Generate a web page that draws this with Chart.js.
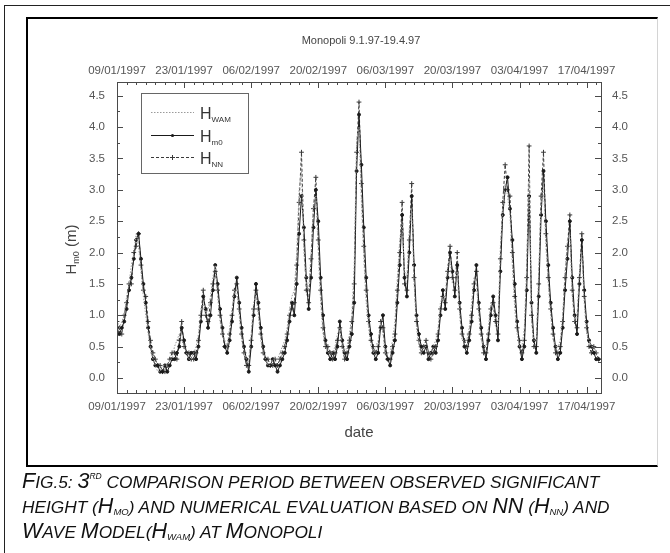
<!DOCTYPE html>
<html>
<head>
<meta charset="utf-8">
<script src="https://cdn.jsdelivr.net/npm/chart.js@4.4.0/dist/chart.umd.min.js"></script>
<style>
  body { margin: 0; background: #fff; width: 670px; height: 553px; overflow: hidden; position: relative; font-family: "Liberation Sans", Arial, sans-serif; }
  #outer { position: absolute; left: 4px; top: 5px; width: 700px; height: 600px; border-left: 1px solid #222; border-top: 1px solid #222; }
  #frame { position: absolute; left: 26px; top: 17px; width: 629px; height: 446px; border: 2px solid #000; border-right: 1px solid #d4d4d4; }
  #chart { position: absolute; left: 0; top: 0; }
  #caption { position: absolute; left: 22px; top: 470px; font-style: italic; font-size: 17.3px; line-height: 25px; color: #111; text-transform: uppercase; white-space: nowrap; }
  #caption .b { font-size: 21.5px; line-height: 0; }
  #caption sub { font-size: 9.5px; vertical-align: -2px; line-height: 0; }
  #caption sup { font-size: 8.5px; vertical-align: 9px; line-height: 0; }
</style>
</head>
<body>
<div id="outer"></div>
<div id="frame"></div>
<canvas id="chart" width="670" height="553"></canvas>
<div id="caption">
  <span class="b">F</span>ig.5: <span class="b">3</span><sup>rd</sup> comparison period between observed significant<br>
  height (<span class="b">H</span><sub>mo</sub>) and numerical evaluation based on <span class="b">NN</span> (<span class="b">H</span><sub>NN</sub>) and<br>
  <span class="b">W</span>ave <span class="b">M</span>odel(<span class="b">H</span><sub>WAM</sub>) at <span class="b">M</span>onopoli
</div>
<script>
// time axis: days after 09/01/1997, two readings per day
const stepDays = 0.5;
const dateLabels = ["09/01/1997", "23/01/1997", "06/02/1997", "20/02/1997", "06/03/1997", "20/03/1997", "03/04/1997", "17/04/1997"];
const labelDays = [0, 14, 28, 42, 56, 70, 84, 98];
const yTicks = [0, 0.5, 1, 1.5, 2, 2.5, 3, 3.5, 4, 4.5];

// observed H_m0 (m)
const hm0 = [
  0.8, 0.7, 0.8, 0.9, 1.1, 1.4, 1.6, 1.9, 2.2, 2.3, 1.9, 1.5, 1.2, 0.8, 0.5, 0.3, 0.2, 0.2, 0.1, 0.1,
  0.2, 0.1, 0.2, 0.3, 0.3, 0.4, 0.5, 0.8, 0.6, 0.4, 0.3, 0.4, 0.4, 0.3, 0.5, 0.9, 1.3, 1.1, 0.8, 1.0,
  1.4, 1.8, 1.5, 1.1, 0.8, 0.5, 0.4, 0.6, 0.9, 1.3, 1.6, 1.2, 0.8, 0.5, 0.3, 0.1, 0.5, 1.0, 1.5, 1.2,
  0.8, 0.5, 0.3, 0.2, 0.2, 0.3, 0.2, 0.1, 0.2, 0.3, 0.4, 0.6, 0.9, 1.2, 1.0, 1.5, 2.3, 2.9, 2.4, 1.6,
  1.1, 1.6, 2.4, 3.0, 2.5, 1.6, 1.0, 0.6, 0.4, 0.3, 0.4, 0.3, 0.5, 0.9, 0.6, 0.4, 0.3, 0.5, 0.7, 1.2,
  3.3, 4.2, 3.4, 2.4, 1.6, 1.0, 0.7, 0.4, 0.3, 0.4, 0.8, 1.0, 0.5, 0.3, 0.2, 0.4, 0.6, 1.2, 1.8, 2.6,
  1.6, 1.3, 2.0, 2.9, 1.8, 1.0, 0.7, 0.5, 0.4, 0.5, 0.3, 0.4, 0.5, 0.4, 0.6, 1.0, 1.4, 1.1, 1.6, 2.0,
  1.7, 1.3, 1.8, 1.2, 0.8, 0.5, 0.4, 0.6, 0.9, 1.4, 1.8, 1.2, 0.8, 0.5, 0.3, 0.6, 1.0, 1.3, 1.0, 0.6,
  1.7, 2.6, 3.0, 3.2, 2.7, 2.2, 1.5, 0.9, 0.5, 0.3, 0.5, 1.4, 2.9, 1.2, 0.6, 0.4, 1.3, 2.6, 3.3, 2.5,
  1.8, 1.2, 0.8, 0.5, 0.3, 0.4, 0.8, 1.4, 1.9, 2.5, 1.6, 1.0, 0.7, 1.5, 2.2, 1.4, 0.9, 0.6, 0.5, 0.4,
  0.3, 0.3
];

// neural network H_NN (m)
const hnn = [
  0.9, 0.8, 0.7, 1.0, 1.2, 1.5, 1.5, 2.0, 2.1, 2.3, 1.8, 1.4, 1.3, 0.9, 0.6, 0.4, 0.3, 0.2, 0.2, 0.1,
  0.1, 0.2, 0.3, 0.4, 0.4, 0.3, 0.6, 0.9, 0.5, 0.4, 0.4, 0.3, 0.3, 0.4, 0.6, 1.0, 1.4, 1.0, 0.9, 1.2,
  1.5, 1.7, 1.4, 1.0, 0.7, 0.5, 0.5, 0.7, 1.0, 1.4, 1.5, 1.1, 0.7, 0.4, 0.2, 0.2, 0.6, 1.1, 1.4, 1.1,
  0.7, 0.4, 0.3, 0.3, 0.2, 0.2, 0.3, 0.2, 0.3, 0.4, 0.5, 0.7, 1.0, 1.1, 1.2, 1.8, 2.8, 3.6, 2.2, 1.4,
  1.2, 1.9, 2.7, 3.2, 2.2, 1.4, 0.8, 0.5, 0.5, 0.4, 0.3, 0.4, 0.6, 0.8, 0.5, 0.3, 0.4, 0.6, 0.9, 1.5,
  3.6, 4.4, 3.1, 2.1, 1.4, 0.9, 0.6, 0.5, 0.4, 0.5, 0.9, 0.8, 0.4, 0.3, 0.3, 0.5, 0.7, 1.4, 2.0, 2.8,
  1.5, 1.4, 2.2, 3.1, 1.6, 0.9, 0.6, 0.4, 0.5, 0.6, 0.4, 0.3, 0.4, 0.5, 0.7, 1.1, 1.3, 1.2, 1.7, 2.1,
  1.6, 1.4, 2.0, 1.1, 0.7, 0.6, 0.5, 0.7, 1.0, 1.5, 1.7, 1.1, 0.7, 0.4, 0.4, 0.7, 1.1, 1.2, 0.9, 0.7,
  1.9, 2.8, 3.4, 3.0, 2.9, 2.0, 1.3, 0.8, 0.6, 0.4, 0.6, 1.6, 3.7, 1.0, 0.5, 0.5, 1.5, 2.9, 3.6, 2.3,
  1.6, 1.1, 0.7, 0.4, 0.4, 0.5, 0.9, 1.6, 2.1, 2.6, 1.4, 0.9, 0.8, 1.6, 2.3, 1.3, 0.8, 0.5, 0.4, 0.5,
  0.4, 0.3
];

// wave model H_WAM (m)
const hwam = [
  0.7, 0.8, 0.9, 1.0, 1.3, 1.5, 1.8, 2.0, 2.3, 2.1, 1.7, 1.3, 1.0, 0.7, 0.5, 0.3, 0.2, 0.1, 0.1, 0.2,
  0.2, 0.2, 0.3, 0.3, 0.5, 0.6, 0.7, 0.6, 0.5, 0.4, 0.3, 0.3, 0.4, 0.5, 0.7, 1.1, 1.2, 1.0, 1.1, 1.3,
  1.6, 1.8, 1.3, 0.9, 0.7, 0.6, 0.5, 0.8, 1.1, 1.4, 1.4, 1.0, 0.6, 0.4, 0.3, 0.3, 0.7, 1.2, 1.3, 1.0,
  0.6, 0.4, 0.3, 0.2, 0.2, 0.3, 0.3, 0.3, 0.4, 0.5, 0.6, 0.8, 1.1, 1.3, 1.4, 2.0, 3.0, 3.3, 2.0, 1.5,
  1.4, 2.0, 2.8, 2.9, 2.0, 1.2, 0.7, 0.5, 0.4, 0.4, 0.4, 0.5, 0.7, 0.8, 0.5, 0.4, 0.5, 0.7, 1.0, 1.8,
  3.8, 4.0, 2.8, 1.9, 1.2, 0.8, 0.5, 0.4, 0.5, 0.6, 0.9, 0.7, 0.4, 0.4, 0.4, 0.6, 0.9, 1.6, 2.2, 2.5,
  1.7, 1.6, 2.4, 2.7, 1.5, 0.8, 0.5, 0.4, 0.5, 0.5, 0.4, 0.4, 0.5, 0.6, 0.8, 1.2, 1.3, 1.3, 1.8, 1.9,
  1.5, 1.5, 1.7, 1.0, 0.6, 0.6, 0.6, 0.8, 1.2, 1.6, 1.5, 1.0, 0.6, 0.5, 0.5, 0.8, 1.2, 1.1, 0.8, 0.8,
  2.1, 2.7, 3.1, 2.9, 2.6, 1.8, 1.1, 0.7, 0.5, 0.5, 0.8, 1.8, 3.2, 0.9, 0.6, 0.6, 1.7, 2.8, 3.1, 2.1,
  1.5, 1.0, 0.6, 0.5, 0.5, 0.6, 1.0, 1.7, 2.2, 2.3, 1.3, 0.9, 1.0, 1.7, 2.0, 1.2, 0.7, 0.6, 0.5, 0.5,
  0.4, 0.4
];

const toPoints = (arr) => arr.map((v, i) => ({ x: i * stepDays, y: v }));

const axisColor = "#4a4a4a";
const labelColor = "#555";
const tickFont = { family: "'Liberation Sans', Arial, sans-serif", size: 11.5 };

// ticks inward on all four sides, major + minor
const frame = {
  id: "frame",
  afterDatasetsDraw(chart) {
    const { ctx, chartArea: a, scales } = chart;
    const x = scales.x, y = scales.y;
    ctx.save();
    ctx.strokeStyle = axisColor;
    ctx.lineWidth = 1;
    ctx.strokeRect(Math.round(a.left) + 0.5, Math.round(a.top) + 0.5, Math.round(a.right - a.left), Math.round(a.bottom - a.top));
    ctx.beginPath();
    for (let d = 0; d <= x.max; d += 2) {
      const px = Math.round(x.getPixelForValue(d)) + 0.5;
      const len = labelDays.includes(d) ? 6 : 3;
      ctx.moveTo(px, a.bottom); ctx.lineTo(px, a.bottom - len);
      ctx.moveTo(px, a.top); ctx.lineTo(px, a.top + len);
    }
    for (let v = 0; v <= y.max; v += 0.25) {
      const py = Math.round(y.getPixelForValue(v)) + 0.5;
      const len = yTicks.includes(v) ? 6 : 3;
      ctx.moveTo(a.left, py); ctx.lineTo(a.left + len, py);
      ctx.moveTo(a.right, py); ctx.lineTo(a.right - len, py);
    }
    ctx.stroke();
    ctx.restore();
  },
  afterDraw(chart) {
    const { ctx, chartArea: a } = chart;
    const cx = (a.left + a.right) / 2;
    ctx.save();
    ctx.fillStyle = "#444";
    ctx.textAlign = "center";
    ctx.textBaseline = "middle";
    ctx.font = "11px 'Liberation Sans', Arial, sans-serif";
    ctx.fillText("Monopoli 9.1.97-19.4.97", cx + 2, 41);
    ctx.font = "15px 'Liberation Sans', Arial, sans-serif";
    ctx.fillText("date", cx, 433);

    // y title with subscript
    ctx.translate(71, (a.top + a.bottom) / 2 + 12);
    ctx.rotate(-Math.PI / 2);
    ctx.textAlign = "left";
    ctx.textBaseline = "alphabetic";
    ctx.font = "15px 'Liberation Sans', Arial, sans-serif";
    const wH = ctx.measureText("H").width;
    ctx.font = "9px 'Liberation Sans', Arial, sans-serif";
    const wS = ctx.measureText("m0").width;
    ctx.font = "15px 'Liberation Sans', Arial, sans-serif";
    const wU = ctx.measureText(" (m)").width;
    let tx = -(wH + wS + wU) / 2;
    ctx.fillText("H", tx, 5);
    ctx.font = "9px 'Liberation Sans', Arial, sans-serif";
    ctx.fillText("m0", tx + wH, 8);
    ctx.font = "15px 'Liberation Sans', Arial, sans-serif";
    ctx.fillText(" (m)", tx + wH + wS, 5);
    ctx.restore();

    // legend box
    const bx = a.left + 24, by = a.top + 11, bw = 107, bh = 80;
    ctx.save();
    ctx.strokeStyle = "#666";
    ctx.lineWidth = 1;
    ctx.strokeRect(bx + 0.5, by + 0.5, bw, bh);
    chart.data.datasets.forEach((ds, i) => {
      const ry = Math.round(by + 19 + i * 22.5) + 0.5;
      ctx.strokeStyle = ds.borderColor;
      ctx.setLineDash(ds.borderDash || []);
      ctx.beginPath();
      ctx.moveTo(bx + 10, ry); ctx.lineTo(bx + 53, ry);
      ctx.stroke();
      ctx.setLineDash([]);
      if (ds.pointRadius > 0) {
        ctx.fillStyle = ds.borderColor;
        if (ds.pointStyle === "cross") {
          ctx.beginPath();
          ctx.moveTo(bx + 31.5 - 2.5, ry); ctx.lineTo(bx + 31.5 + 2.5, ry);
          ctx.moveTo(bx + 31.5, ry - 2.5); ctx.lineTo(bx + 31.5, ry + 2.5);
          ctx.stroke();
        } else {
          ctx.beginPath();
          ctx.arc(bx + 31.5, ry, 1.6, 0, Math.PI * 2);
          ctx.fill();
        }
      }
      ctx.fillStyle = "#333";
      ctx.textBaseline = "alphabetic";
      ctx.font = "16px 'Liberation Sans', Arial, sans-serif";
      ctx.fillText("H", bx + 59, ry + 6);
      const w = ctx.measureText("H").width;
      ctx.font = "8px 'Liberation Sans', Arial, sans-serif";
      ctx.fillText(ds.sub, bx + 59 + w, ry + 9);
    });
    ctx.restore();
  }
};

const xTickLabel = (v) => {
  const i = labelDays.indexOf(v);
  return i >= 0 ? dateLabels[i] : "";
};

const xScale = (pos, size, pad) => ({
  type: "linear",
  position: pos,
  axis: "x",
  min: 0,
  max: 101,
  grid: { display: false, drawTicks: false },
  border: { display: false },
  ticks: { color: labelColor, font: tickFont, padding: pad, maxRotation: 0, autoSkip: false, callback: xTickLabel },
  afterBuildTicks: (s) => { s.ticks = labelDays.map((v) => ({ value: v })); },
  afterFit: (s) => { s.height = size; }
});

const yScale = (pos, size, pad) => ({
  type: "linear",
  position: pos,
  axis: "y",
  min: -0.24,
  max: 4.72,
  grid: { display: false, drawTicks: false },
  border: { display: false },
  ticks: { color: labelColor, font: tickFont, padding: pad, callback: (v) => v.toFixed(1) },
  afterBuildTicks: (s) => { s.ticks = yTicks.map((v) => ({ value: v })); },
  afterFit: (s) => { s.width = size; }
});

new Chart(document.getElementById("chart"), {
  type: "line",
  data: {
    datasets: [
      { label: "H_WAM", sub: "WAM", data: toPoints(hwam), borderColor: "#9a9a9a", borderWidth: 1, borderDash: [1.5, 1.5], pointRadius: 0 },
      { label: "H_m0", sub: "m0", data: toPoints(hm0), borderColor: "#1a1a1a", backgroundColor: "#1a1a1a", borderWidth: 1, pointRadius: 1.5, pointStyle: "circle" },
      { label: "H_NN", sub: "NN", data: toPoints(hnn), borderColor: "#3a3a3a", backgroundColor: "#3a3a3a", borderWidth: 1, borderDash: [3, 2], pointRadius: 2.4, pointStyle: "cross" }
    ]
  },
  options: {
    responsive: false,
    animation: false,
    devicePixelRatio: 1,
    layout: { padding: 0 },
    plugins: { legend: { display: false }, title: { display: false }, tooltip: { enabled: false } },
    scales: {
      x: xScale("bottom", 160, 7),
      x2: xScale("top", 82, 4),
      y: yScale("left", 117, 12),
      y2: yScale("right", 69, 11)
    }
  },
  plugins: [frame]
});
</script>
</body>
</html>
